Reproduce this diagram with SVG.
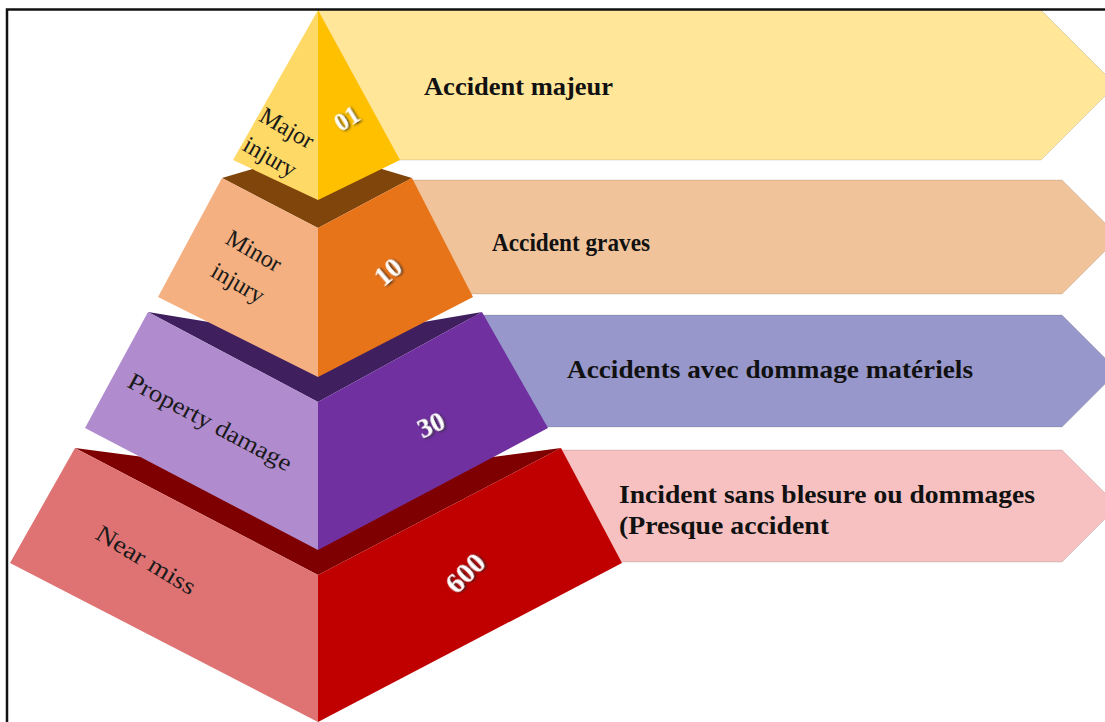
<svg xmlns="http://www.w3.org/2000/svg" width="1105" height="722" viewBox="0 0 1105 722">
<defs>
<filter id="sh" x="-30%" y="-30%" width="160%" height="160%">
<feDropShadow dx="1.2" dy="1.5" stdDeviation="0.8" flood-color="#2a2a2a" flood-opacity="0.9"/>
</filter>
</defs>
<style>
.bn{stroke:#000;stroke-opacity:.12;stroke-width:1}
.bt{font-family:"Liberation Serif","Times New Roman",serif;font-weight:bold;font-size:25px;fill:#111}
.lb{font-family:"Liberation Serif","Times New Roman",serif;font-size:24px;fill:#1a1a1a;text-anchor:middle}
.nm{font-family:"Liberation Serif","Times New Roman",serif;font-weight:bold;font-size:27px;fill:#fff;text-anchor:middle;filter:url(#sh)}
</style>
<rect width="1105" height="722" fill="#fff"/>

<g id="banner-major">
<polygon class="bn" points="318,10 1041,10 1116,85 1041,160 318,160" fill="#FFE699"/>
<text class="bt" x="424" y="95" textLength="189" lengthAdjust="spacingAndGlyphs">Accident majeur</text>
</g>
<g id="banner-graves">
<polygon class="bn" points="405,180 1062,180 1119,237 1062,294 405,294" fill="#F0C39B"/>
<text class="bt" x="492" y="251" textLength="158" lengthAdjust="spacingAndGlyphs">Accident graves</text>
</g>
<g id="banner-materiels">
<polygon class="bn" points="470,315 1062,315 1118,371 1062,427 470,427" fill="#9797CB"/>
<text class="bt" x="567" y="378" textLength="406" lengthAdjust="spacingAndGlyphs">Accidents avec dommage matériels</text>
</g>
<g id="banner-incident">
<polygon class="bn" points="550,450 1062,450 1118,506 1062,562 550,562" fill="#F6C1C0"/>
<text class="bt" x="619" y="503" textLength="416" lengthAdjust="spacingAndGlyphs">Incident sans blesure ou dommages</text>
<text class="bt" x="619" y="534" textLength="210" lengthAdjust="spacingAndGlyphs">(Presque accident</text>
</g>

<g id="tier-near-miss">
<polygon points="75,448 318,480 561,448 318,575" fill="#7F0000"/>
<polygon points="75,448 318,575 318,722 10,563" fill="#DF7373"/>
<polygon points="318,575 561,448 622,563 318,722" fill="#C00000"/>
<text class="lb" transform="translate(146,560) rotate(31)" dy="0.33em" textLength="112" lengthAdjust="spacingAndGlyphs">Near miss</text>
<text class="nm" transform="translate(465,573) rotate(-45)" dy="0.33em" style="font-size:29px">600</text>
</g>

<g id="tier-property">
<polygon points="148,312 318,340 482,312 318,402" fill="#3F1F5E"/>
<polygon points="148,312 318,402 318,550 85,428" fill="#B08BCE"/>
<polygon points="318,402 482,312 548,428 318,550" fill="#7030A0"/>
<text class="lb" transform="translate(210,422) rotate(28)" dy="0.33em" textLength="182" lengthAdjust="spacingAndGlyphs">Property damage</text>
<text class="nm" transform="translate(431,425) rotate(-25)" dy="0.33em">30</text>
</g>

<g id="tier-minor">
<polygon points="222,178 318,150 412,178 318,228" fill="#7F450A"/>
<polygon points="222,178 318,228 318,377 158,297" fill="#F4B080"/>
<polygon points="318,228 412,178 473,297 318,377" fill="#E8741A"/>
<text class="lb" transform="translate(254,251) rotate(30)" dy="0.33em">Minor</text>
<text class="lb" transform="translate(238,283) rotate(30)" dy="0.33em">injury</text>
<text class="nm" transform="translate(388,272) rotate(-40)" dy="0.33em">10</text>
</g>

<g id="tier-major">
<polygon points="318,10 318,200 233,160" fill="#FFD966"/>
<polygon points="318,10 400,160 318,200" fill="#FFC000"/>
<text class="lb" transform="translate(287,128) rotate(30)" dy="0.33em">Major</text>
<text class="lb" transform="translate(270,157) rotate(30)" dy="0.33em">injury</text>
<text class="nm" transform="translate(347,119) rotate(-32)" dy="0.33em" style="font-size:25px">01</text>
</g>

<path d="M7,722 V9.5 H1105" fill="none" stroke="#111" stroke-width="2.5"/>
</svg>
